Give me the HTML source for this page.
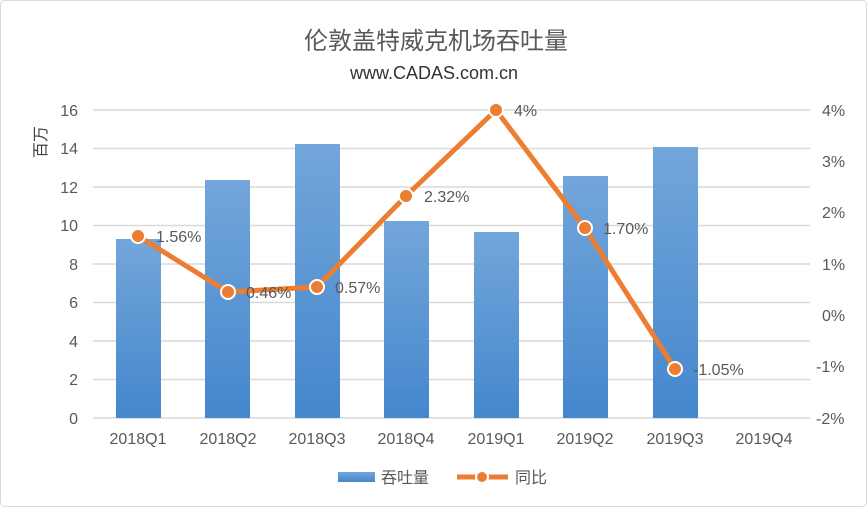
<!DOCTYPE html>
<html><head><meta charset="utf-8"><style>
body{margin:0;background:#fff;}
svg text{font-family:"Liberation Sans","Noto Sans CJK SC",sans-serif;}
</style></head><body>
<svg width="867" height="507" viewBox="0 0 867 507" xmlns="http://www.w3.org/2000/svg">
<defs><linearGradient id="g" x1="0" y1="0" x2="0" y2="1"><stop offset="0" stop-color="#73a6da"/><stop offset="1" stop-color="#4487cd"/></linearGradient></defs>
<rect x="0.5" y="0.5" width="866" height="506" rx="4" fill="#fff" stroke="#d9d9d9"/>
<text x="436" y="49" text-anchor="middle" font-size="24" fill="#595959">伦敦盖特威克机场吞吐量</text>
<text x="434" y="79" text-anchor="middle" font-size="18" fill="#333">www.CADAS.com.cn</text>
<g stroke="#d9d9d9" stroke-width="1.5">
<line x1="93" x2="810" y1="418" y2="418"/><line x1="93" x2="810" y1="379.5" y2="379.5"/><line x1="93" x2="810" y1="341" y2="341"/><line x1="93" x2="810" y1="302.5" y2="302.5"/><line x1="93" x2="810" y1="264" y2="264"/><line x1="93" x2="810" y1="225.5" y2="225.5"/><line x1="93" x2="810" y1="187" y2="187"/><line x1="93" x2="810" y1="148.5" y2="148.5"/><line x1="93" x2="810" y1="110" y2="110"/>
</g>
<g font-size="16" fill="#595959" text-anchor="end">
<text x="78" y="424">0</text><text x="78" y="385">2</text><text x="78" y="347">4</text><text x="78" y="308">6</text><text x="78" y="270">8</text><text x="78" y="231">10</text><text x="78" y="193">12</text><text x="78" y="154">14</text><text x="78" y="116">16</text>
</g>
<g font-size="16" fill="#595959">
<text x="822" y="116">4%</text><text x="822" y="167">3%</text><text x="822" y="218">2%</text><text x="822" y="270">1%</text><text x="822" y="321">0%</text><text x="816" y="372">-1%</text><text x="816" y="424">-2%</text>
</g>
<text transform="translate(46,142) rotate(-90)" text-anchor="middle" font-size="16" fill="#404040">百万</text>
<g fill="url(#g)">
<rect x="116" y="239" width="45" height="179"/><rect x="205" y="180" width="45" height="238"/><rect x="295" y="144" width="45" height="274"/><rect x="384" y="221" width="45" height="197"/><rect x="474" y="232" width="45" height="186"/><rect x="563" y="176" width="45" height="242"/><rect x="653" y="147" width="45" height="271"/>
</g>
<g font-size="16" fill="#595959" text-anchor="middle">
<text x="138" y="444">2018Q1</text><text x="228" y="444">2018Q2</text><text x="317" y="444">2018Q3</text><text x="406" y="444">2018Q4</text><text x="496" y="444">2019Q1</text><text x="585" y="444">2019Q2</text><text x="675" y="444">2019Q3</text><text x="764" y="444">2019Q4</text>
</g>
<polyline points="138,236 228,292 317,287 406,196 496,110 585,228 675,369" fill="none" stroke="#ed7d31" stroke-width="5" stroke-linejoin="round"/>
<g fill="#ed7d31" stroke="#fff" stroke-width="2">
<circle cx="138" cy="236" r="7"/><circle cx="228" cy="292" r="7"/><circle cx="317" cy="287" r="7"/><circle cx="406" cy="196" r="7"/><circle cx="496" cy="110" r="7"/><circle cx="585" cy="228" r="7"/><circle cx="675" cy="369" r="7"/>
</g>
<g font-size="16" fill="#595959">
<text x="156" y="242">1.56%</text><text x="246" y="298">0.46%</text><text x="335" y="293">0.57%</text><text x="424" y="202">2.32%</text><text x="514" y="116">4%</text><text x="603" y="234">1.70%</text><text x="693" y="375">-1.05%</text>
</g>
<rect x="338" y="472" width="37" height="10" fill="url(#g)"/>
<text x="381" y="483" font-size="16" fill="#595959">吞吐量</text>
<line x1="457" x2="508" y1="477" y2="477" stroke="#ed7d31" stroke-width="5"/>
<circle cx="482" cy="477" r="6" fill="#ed7d31" stroke="#fff" stroke-width="2"/>
<text x="515" y="483" font-size="16" fill="#595959">同比</text>
</svg>
</body></html>
